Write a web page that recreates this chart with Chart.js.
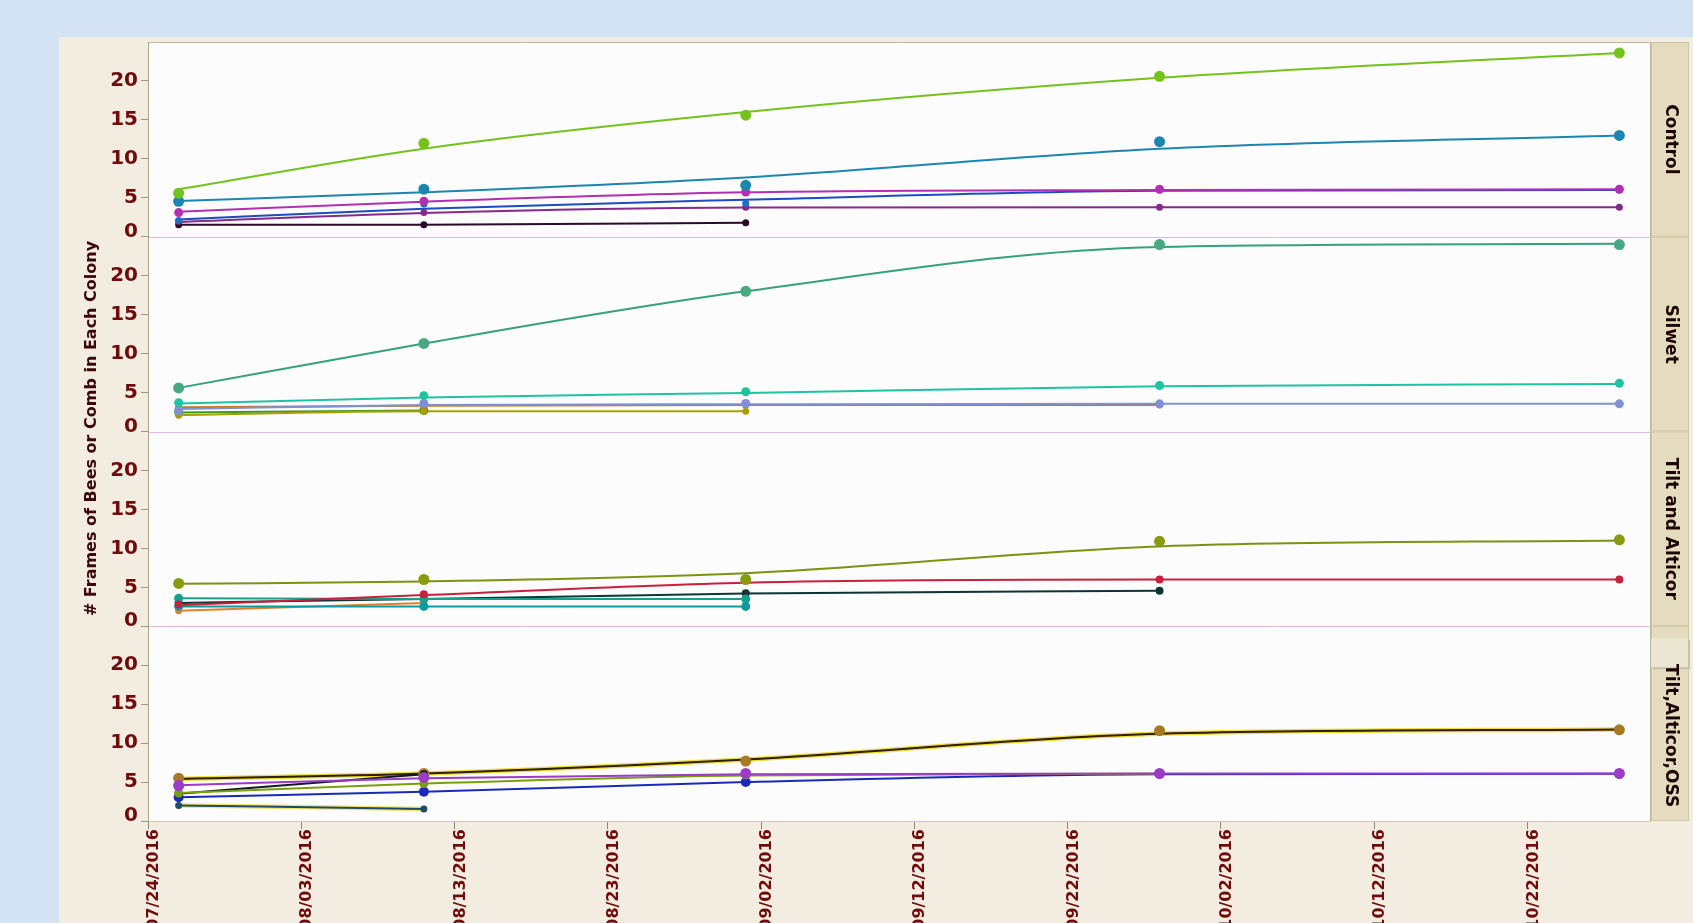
<!DOCTYPE html>
<html>
<head>
<meta charset="utf-8">
<script src="https://cdn.jsdelivr.net/npm/chart.js@4.4.1/dist/chart.umd.min.js"></script>
<style>
  html, body { margin: 0; padding: 0; background: #d3e3f4; overflow: hidden; }
  #wrap { width: 1693px; height: 923px; position: relative; }
</style>
</head>
<body>
<div id="wrap"><canvas id="chart" width="1693" height="923"></canvas></div>
<script>
// Treatment groups, one panel each (top to bottom)
const panelNames = ['Control', 'Silwet', 'Tilt and Alticor', 'Tilt,Alticor,OSS'];

// Inspection dates
const sampleDates = ['07/26/2016', '08/11/2016', '09/01/2016', '09/28/2016', '10/28/2016'];

// Date axis tick labels and value-axis ticks
const dateTicks = ['07/24/2016', '08/03/2016', '08/13/2016', '08/23/2016', '09/02/2016',
                   '09/12/2016', '09/22/2016', '10/02/2016', '10/12/2016', '10/22/2016'];
const yTicks = [0, 5, 10, 15, 20];

const yTitle = '# Frames of Bees or Comb in Each Colony';

// ---- Control: observed frames and fitted curve per colony ----
const ctlAObs = [5.6, 12.0, 15.6, 20.6, 23.6];
const ctlAFit = [6.1, 11.3, 16.0, 20.4, 23.6];
const ctlBObs = [4.55, 6.1, 6.6, 12.2, 13.0];
const ctlBFit = [4.6, 5.7, 7.6, 11.3, 13.0];
const ctlCObs = [3.1, 4.55, 5.75, 6.1, 6.1];
const ctlCFit = [3.2, 4.5, 5.7, 6.0, 6.1];
const ctlDObs = [2.1, 4.2, 4.3, 6.0, 6.0];
const ctlDFit = [2.2, 3.6, 4.75, 5.9, 6.0];
const ctlEObs = [2.0, 3.1, 3.8, 3.8, 3.8];
const ctlEFit = [1.9, 3.05, 3.75, 3.8, 3.8];
const ctlFObs = [1.55, 1.55, 1.8];
const ctlFFit = [1.55, 1.55, 1.8];

// ---- Silwet ----
const silAObs = [5.6, 11.3, 18.0, 24.0, 24.0];
const silAFit = [5.6, 11.3, 18.0, 23.7, 24.1];
const silBObs = [3.7, 4.6, 5.1, 5.9, 6.2];
const silBFit = [3.6, 4.35, 4.95, 5.8, 6.1];
const silCObs = [2.7, 3.6, 3.6, 3.55, 3.55];
const silCFit = [2.9, 3.4, 3.5, 3.55, 3.55];
const silDObs = [3.1, 3.3, 3.4, 3.4];
const silDFit = [3.1, 3.3, 3.4, 3.4];
const silEObs = [2.1, 2.6, 2.6];
const silEFit = [2.1, 2.6, 2.6];
const silFObs = [2.5, 2.7];
const silFFit = [2.45, 2.7];

// ---- Tilt and Alticor ----
const taAObs = [5.5, 6.0, 6.0, 10.9, 11.1];
const taAFit = [5.45, 5.75, 6.8, 10.25, 11.0];
const taBObs = [2.8, 4.1, null, 6.0, 6.0];
const taBFit = [2.7, 4.0, 5.6, 6.0, 6.0];
const taCObs = [3.05, 3.5, 4.25, 4.55];
const taCFit = [3.0, 3.5, 4.2, 4.55];
const taDObs = [3.6, 3.5, 3.5];
const taDFit = [3.6, 3.5, 3.5];
const taEObs = [2.55, 2.55, 2.55];
const taEFit = [2.55, 2.55, 2.55];
const taFObs = [2.0, 3.0];
const taFFit = [2.0, 3.0];

// ---- Tilt, Alticor, OSS ----
const taoAObs = [5.5, 6.1, 7.7, 11.6, 11.7];
const taoAFit = [5.4, 6.1, 7.9, 11.2, 11.75];
const taoBObs = [4.55, 5.6, 6.1, 6.1, 6.1];
const taoBFit = [4.6, 5.5, 6.0, 6.1, 6.1];
const taoCObs = [3.6, 4.8, 5.9, 6.05];
const taoCFit = [3.6, 4.8, 5.85, 6.05];
const taoDObs = [3.5, 6.0];
const taoDFit = [3.5, 6.0];
const taoEObs = [3.05, 3.75, 5.0, 6.05, 6.05];
const taoEFit = [3.05, 3.75, 5.0, 6.0, 6.05];
const taoFObs = [2.0, 1.55];
const taoFFit = [2.0, 1.55];

// Series list: panel index, observations, fit, drawing style
const seriesList = [
  { panel: 0, obs: ctlAObs, fit: ctlAFit, color: '#74c21c', r: 5.5 },
  { panel: 0, obs: ctlBObs, fit: ctlBFit, color: '#1b86b0', r: 5.5 },
  { panel: 0, obs: ctlCObs, fit: ctlCFit, color: '#b22fb2', r: 4.5 },
  { panel: 0, obs: ctlDObs, fit: ctlDFit, color: '#1c4cc0', r: 3.5, pcolor: '#1a70c0' },
  { panel: 0, obs: ctlEObs, fit: ctlEFit, color: '#862a8c', r: 3.5 },
  { panel: 0, obs: ctlFObs, fit: ctlFFit, color: '#2a0c2a', r: 3.5 },

  { panel: 1, obs: silAObs, fit: silAFit, color: '#35a27a', r: 5.5, pcolor: '#48a882' },
  { panel: 1, obs: silBObs, fit: silBFit, color: '#1ec4a0', r: 4.5 },
  { panel: 1, obs: silCObs, fit: silCFit, color: '#7f90d6', r: 4.5 },
  { panel: 1, obs: silDObs, fit: silDFit, color: '#c77a1c', r: 3.5 },
  { panel: 1, obs: silEObs, fit: silEFit, color: '#a8a000', r: 3.5 },
  { panel: 1, obs: silFObs, fit: silFFit, color: '#3a9a22', r: 4.5 },

  { panel: 2, obs: taAObs, fit: taAFit, color: '#7c9212', r: 5.5, pcolor: '#8a9a0e' },
  { panel: 2, obs: taBObs, fit: taBFit, color: '#c9203c', r: 4 },
  { panel: 2, obs: taDObs, fit: taDFit, color: '#17a08e', r: 4.5 },
  { panel: 2, obs: taCObs, fit: taCFit, color: '#0e3434', r: 4 },
  { panel: 2, obs: taEObs, fit: taEFit, color: '#0e98a0', r: 4.5 },
  { panel: 2, obs: taFObs, fit: taFFit, color: '#e0802a', r: 3.5 },

  { panel: 3, obs: taoBObs, fit: taoBFit, color: '#9a3cc8', r: 5.5 },
  { panel: 3, obs: taoCObs, fit: taoCFit, color: '#7a9e10', r: 4.5 },
  { panel: 3, obs: taoEObs, fit: taoEFit, color: '#1a2ab8', r: 5 },
  { panel: 3, obs: taoDObs, fit: taoDFit, color: '#101a20', r: 4 },
  { panel: 3, obs: taoFObs, fit: taoFFit, color: '#1f4a6a', r: 3.5, halo: 'rgba(240,222,70,0.8)' },
  { panel: 3, obs: taoAObs, fit: taoAFit, color: '#2e1e08', r: 5.5, pcolor: '#a57a20', halo: 'rgba(236,214,20,0.85)' }
];

const axisIds = ['yCtl', 'ySil', 'yTA', 'yTAO'];

function dayOf(s) {
  const [m, d, y] = s.split('/').map(Number);
  return (Date.UTC(y, m - 1, d) - Date.UTC(2016, 6, 24)) / 86400000;
}

// Points above fitted curves, fitted curves above their halos
const datasets = [];
seriesList.forEach(s => {
  const fitPts = s.fit.map((v, i) => ({ x: dayOf(sampleDates[i]), y: v }));
  const obsPts = s.obs.map((v, i) => ({ x: dayOf(sampleDates[i]), y: v }));
  if (s.halo) {
    datasets.push({
      data: fitPts, yAxisID: axisIds[s.panel], borderColor: s.halo, borderWidth: 4.5, order: 3,
      pointRadius: 0, cubicInterpolationMode: 'monotone', fill: false
    });
  }
  datasets.push({
    data: fitPts, yAxisID: axisIds[s.panel], borderColor: s.color, borderWidth: 2, order: 2,
    pointRadius: 0, cubicInterpolationMode: 'monotone', fill: false
  });
  datasets.push({
    data: obsPts, yAxisID: axisIds[s.panel], showLine: false, order: 1,
    pointRadius: s.r, pointBackgroundColor: s.pcolor || s.color,
    pointBorderWidth: 0, borderColor: s.pcolor || s.color
  });
});

// lineHeight 0.5 lifts the two-line "0" label half a line above its tick
const tickFont = { family: 'DejaVu Sans', size: 20, weight: 'bold', lineHeight: 0.5 };
const dateFont = { family: 'DejaVu Sans', size: 16, weight: 'bold' };
const tickColor = '#700b0b';

function panelAxis(weightOrder) {
  return {
    type: 'linear', position: 'left', stack: 'panels', stackWeight: 1, weight: weightOrder,
    min: 0, max: 25,
    afterBuildTicks: sc => { sc.ticks = yTicks.map(v => ({ value: v })); },
    afterFit: sc => { sc.width = 148; },
    grid: { drawOnChartArea: false, drawTicks: true, tickLength: 7, color: '#9c9a84' },
    border: { display: true, color: '#a6a68a', width: 1 },
    ticks: {
      color: tickColor, font: tickFont, padding: 3,
      callback: v => (v === 0 ? ['0', ''] : String(v))
    }
  };
}

const scales = {
  x: {
    type: 'linear', position: 'bottom', min: 0, max: 98,
    afterBuildTicks: sc => { sc.ticks = dateTicks.map(t => ({ value: dayOf(t) })); },
    afterFit: sc => { sc.height = 102; },
    grid: { drawOnChartArea: false, drawTicks: true, tickLength: 8, color: '#8c8a78' },
    border: { display: true, color: '#cfcf9a', width: 1 },
    ticks: {
      color: tickColor, font: dateFont, autoSkip: false, minRotation: 90, maxRotation: 90,
      padding: 0, labelOffset: 6,
      callback: v => { const i = dateTicks.findIndex(t => dayOf(t) === v); return i >= 0 ? dateTicks[i] : ''; }
    }
  }
};
// higher weight is placed higher in the left stack
axisIds.forEach((id, i) => { scales[id] = panelAxis(10 - i); });

const frame = {
  id: 'frame',
  beforeDraw(chart) {
    const { ctx, chartArea: a, width, height } = chart;
    ctx.save();
    ctx.fillStyle = '#d3e3f4';
    ctx.fillRect(0, 0, width, height);
    ctx.fillStyle = '#f3ede1';
    ctx.fillRect(59, 37, width - 59, height - 37);
    ctx.fillStyle = '#fcfcfc';
    ctx.fillRect(a.left, a.top, a.right - a.left, a.bottom - a.top);
    // strips at the right of each panel
    axisIds.forEach((id, i) => {
      const sc = chart.scales[id];
      ctx.fillStyle = '#e5dcc0';
      ctx.fillRect(a.right + 1, sc.top, 38, sc.bottom - sc.top);
      ctx.strokeStyle = '#cfc5a6';
      ctx.lineWidth = 1;
      ctx.strokeRect(a.right + 1.5, sc.top + 0.5, 37, sc.bottom - sc.top - 1);
    });
    // panel separators
    ctx.strokeStyle = '#e2b8e2';
    ctx.lineWidth = 1;
    axisIds.slice(0, 3).forEach(id => {
      const y = Math.round(chart.scales[id].bottom) + 0.5;
      ctx.beginPath(); ctx.moveTo(a.left, y); ctx.lineTo(a.right, y); ctx.stroke();
    });
    // plot frame (top and right)
    ctx.strokeStyle = '#b9b89c';
    ctx.beginPath();
    ctx.moveTo(a.left, a.top + 0.5); ctx.lineTo(a.right + 0.5, a.top + 0.5);
    ctx.lineTo(a.right + 0.5, a.bottom);
    ctx.stroke();
    ctx.restore();
  },
  afterDraw(chart) {
    const { ctx, chartArea: a } = chart;
    ctx.save();
    // small tab at the top of the last strip
    const last = chart.scales[axisIds[3]];
    ctx.fillStyle = '#c9c1a6';
    ctx.fillRect(a.right + 3, last.top + 14, 37, 29);
    ctx.fillStyle = '#eae6d1';
    ctx.fillRect(a.right + 1, last.top + 12, 37, 29);
    // strip labels
    ctx.font = 'bold 17px "DejaVu Sans"';
    ctx.fillStyle = '#1c0606';
    ctx.textAlign = 'center';
    ctx.textBaseline = 'middle';
    axisIds.forEach((id, i) => {
      const sc = chart.scales[id];
      let cy = (sc.top + sc.bottom) / 2;
      if (i === 3) cy += 12;
      ctx.save();
      ctx.translate(a.right + 20, cy);
      ctx.rotate(Math.PI / 2);
      ctx.fillText(panelNames[i], 0, 0);
      ctx.restore();
    });
    // value-axis title
    ctx.save();
    ctx.font = 'bold 16px "DejaVu Sans"';
    ctx.translate(92, (a.top + a.bottom) / 2 - 3);
    ctx.rotate(-Math.PI / 2);
    ctx.fillStyle = '#3a0808';
    ctx.fillText(yTitle, 0, 0);
    ctx.restore();
    ctx.restore();
  }
};

new Chart(document.getElementById('chart'), {
  type: 'line',
  data: { datasets },
  options: {
    responsive: false,
    animation: false,
    devicePixelRatio: 1,
    layout: { padding: { left: 0, top: 42, right: 43, bottom: 0 } },
    plugins: { legend: { display: false }, tooltip: { enabled: false } },
    scales
  },
  plugins: [frame]
});
</script>
</body>
</html>
